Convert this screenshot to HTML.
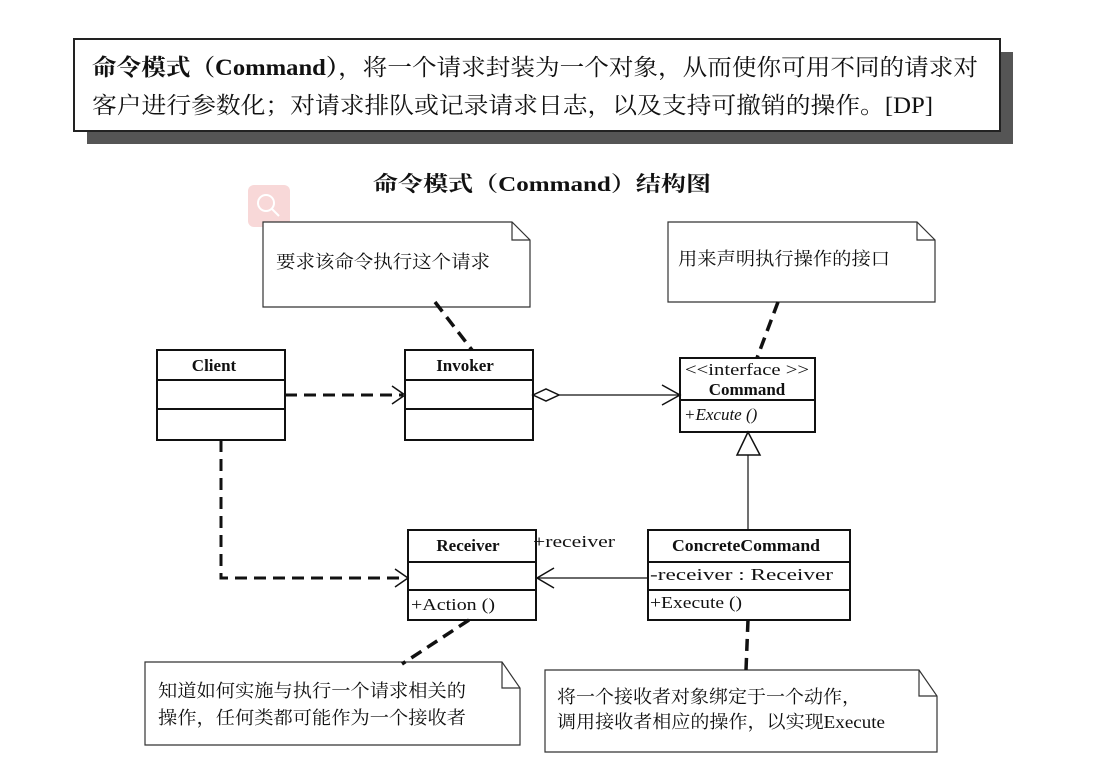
<!DOCTYPE html>
<html><head><meta charset="utf-8"><style>
body{margin:0;width:1109px;height:767px;background:#fff;overflow:hidden;position:relative;font-family:"Liberation Serif","Noto Serif CJK SC",serif}
</style></head><body>
<svg width="1109" height="767" style="position:absolute;left:0;top:0" font-family="'Liberation Serif','Noto Serif CJK SC',serif">
<rect x="87" y="52" width="926" height="92" fill="#555"/>
<rect x="74" y="39" width="926" height="92" fill="#fff" stroke="#222" stroke-width="2"/>
<text x="92" y="75" font-size="23" fill="#111" textLength="886" lengthAdjust="spacingAndGlyphs"><tspan font-weight="bold">命令模式（Command）</tspan>，将一个请求封装为一个对象，从而使你可用不同的请求对</text>
<text x="92" y="113" font-size="23" fill="#111" textLength="841" lengthAdjust="spacingAndGlyphs">客户进行参数化；对请求排队或记录请求日志，以及支持可撤销的操作。[DP]</text>
<text x="373" y="191" font-size="21" font-weight="bold" fill="#111" textLength="338" lengthAdjust="spacingAndGlyphs">命令模式（Command）结构图</text>
<rect x="248" y="185" width="42" height="42" rx="6" fill="#f8d8d8"/>
<circle cx="266" cy="203" r="8" fill="none" stroke="#fff" stroke-width="2"/><line x1="272" y1="209" x2="279" y2="216" stroke="#fff" stroke-width="2"/>
<g fill="#fff" stroke="#333" stroke-width="1.2">
<path d="M263 222 H512 L530 240 V307 H263 Z"/><path d="M512 222 V240 H530" fill="none"/>
<path d="M668 222 H917 L935 240 V302 H668 Z"/><path d="M917 222 V240 H935" fill="none"/>
<path d="M145 662 H502 L520 688 V745 H145 Z"/><path d="M502 662 V688 H520" fill="none"/>
<path d="M545 670 H919 L937 696 V752 H545 Z"/><path d="M919 670 V696 H937" fill="none"/>
</g>
<g font-size="18" fill="#111">
<text x="276" y="268" textLength="214" lengthAdjust="spacingAndGlyphs">要求该命令执行这个请求</text>
<text x="678" y="265" textLength="212" lengthAdjust="spacingAndGlyphs">用来声明执行操作的接口</text>
<text x="158" y="697" textLength="308" lengthAdjust="spacingAndGlyphs">知道如何实施与执行一个请求相关的</text>
<text x="158" y="724" textLength="308" lengthAdjust="spacingAndGlyphs">操作，任何类都可能作为一个接收者</text>
<text x="557" y="703" textLength="304" lengthAdjust="spacingAndGlyphs">将一个接收者对象绑定于一个动作，</text>
<text x="557" y="728" textLength="328" lengthAdjust="spacingAndGlyphs">调用接收者相应的操作，以实现Execute</text>
</g>
<g stroke="#111" stroke-width="2" fill="#fff">
<rect x="157" y="350" width="128" height="90"/><line x1="157" y1="380" x2="285" y2="380"/><line x1="157" y1="409" x2="285" y2="409"/>
<rect x="405" y="350" width="128" height="90"/><line x1="405" y1="380" x2="533" y2="380"/><line x1="405" y1="409" x2="533" y2="409"/>
<rect x="680" y="358" width="135" height="74"/><line x1="680" y1="400" x2="815" y2="400"/>
<rect x="408" y="530" width="128" height="90"/><line x1="408" y1="562" x2="536" y2="562"/><line x1="408" y1="590" x2="536" y2="590"/>
<rect x="648" y="530" width="202" height="90"/><line x1="648" y1="562" x2="850" y2="562"/><line x1="648" y1="590" x2="850" y2="590"/>
</g>
<g font-size="17" fill="#111">
<text x="214" y="371" font-weight="bold" text-anchor="middle">Client</text>
<text x="465" y="371" font-weight="bold" text-anchor="middle">Invoker</text>
<text x="685" y="375" font-size="17" textLength="124" lengthAdjust="spacingAndGlyphs">&lt;&lt;interface &gt;&gt;</text>
<text x="747" y="395" font-weight="bold" text-anchor="middle">Command</text>
<text x="684" y="420" font-style="italic">+Excute ()</text>
<text x="468" y="551" font-weight="bold" text-anchor="middle">Receiver</text>
<text x="411" y="610" textLength="84" lengthAdjust="spacingAndGlyphs">+Action ()</text>
<text x="672" y="551" font-weight="bold" textLength="148" lengthAdjust="spacingAndGlyphs">ConcreteCommand</text>
<text x="650" y="580" textLength="183" lengthAdjust="spacingAndGlyphs">-receiver : Receiver</text>
<text x="650" y="608" textLength="92" lengthAdjust="spacingAndGlyphs">+Execute ()</text>
<text x="533" y="547" textLength="82" lengthAdjust="spacingAndGlyphs">+receiver</text>
</g>
<g stroke="#111" fill="none">
<path d="M285 395 H403" stroke-width="3" stroke-dasharray="12,7"/>
<path d="M392 386 L405 395 L392 404" stroke-width="1.5"/>
<path d="M221 440 V578 H406" stroke-width="3" stroke-dasharray="12,7"/>
<path d="M395 569 L408 578 L395 587" stroke-width="1.5"/>
<path d="M533 395 L546 389 L559 395 L546 401 Z" stroke-width="1.5" fill="#fff"/>
<path d="M559 395 H679" stroke-width="1.2"/>
<path d="M662 385 L680 395 L662 405" stroke-width="1.5"/>
<path d="M648 578 H537" stroke-width="1.2"/>
<path d="M554 568 L537 578 L554 588" stroke-width="1.5"/>
<path d="M748 432 L737 455 H760 Z" stroke-width="1.5" fill="#fff"/>
<path d="M748 455 V530" stroke-width="1.2"/>
<g stroke-width="3.5" stroke-dasharray="12,7">
<path d="M435 302 L472 350"/>
<path d="M778 302 L757 358"/>
<path d="M469 620 L402 664"/>
<path d="M748 620 L746 670"/>
</g>
</g>
</svg>
</body></html>
